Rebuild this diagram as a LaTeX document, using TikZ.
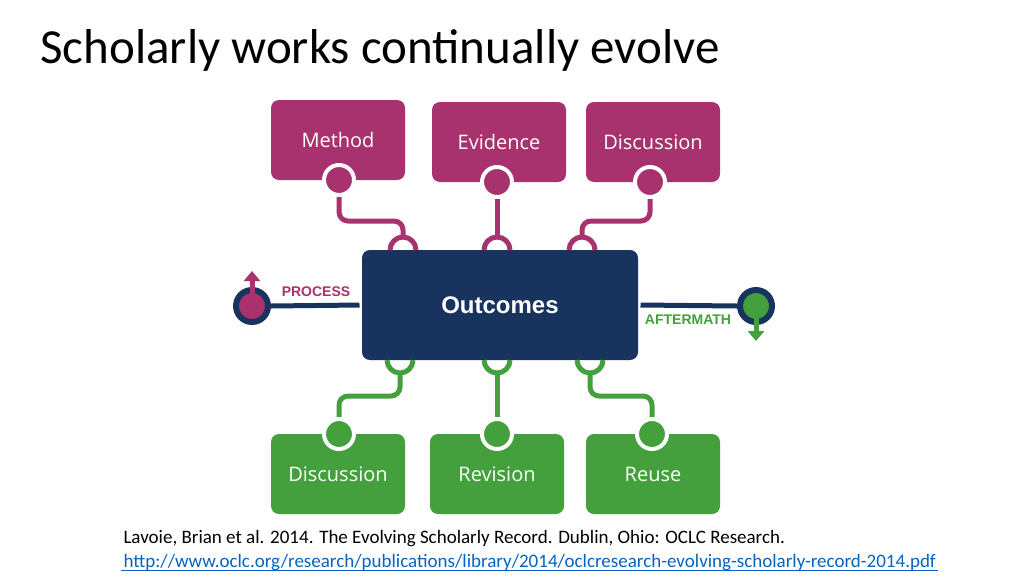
\documentclass[tikz,border=0pt]{standalone}
\usepackage{fontspec}
\setmainfont{Carlito}
\newfontfamily\boxfont{Open Sans}
\newfontfamily\headfont{Liberation Sans}
\usepackage{tikz}
\usetikzlibrary{calc,arrows.meta,positioning}
\definecolor{plum}{RGB}{168,50,110}
\definecolor{leaf}{RGB}{67,160,60}
\definecolor{navy}{RGB}{24,52,94}
\definecolor{linkblue}{RGB}{5,99,193}

\begin{document}
\begin{tikzpicture}[x=1pt,y=-1pt,line width=5pt,
  top box/.style={fill=plum,rounded corners=8pt,minimum width=134pt,minimum height=80pt,
    text=white,font=\boxfont\fontsize{20}{20}\selectfont,inner sep=0pt},
  bottom box/.style={top box,fill=leaf},
  plug/.style={circle,draw=white,line width=4pt,inner sep=0pt,minimum size=30pt},
  top link/.style={draw=plum,rounded corners=9pt},
  bottom link/.style={draw=leaf,rounded corners=9pt}]
  \useasboundingbox (0,0) rectangle (1024,576);

  \node[anchor=west,font=\fontsize{49}{49}\selectfont,inner sep=0pt] (title) at (38,50) {Scholarly works continually evolve};

  % central box
  \node[fill=navy,rounded corners=8pt,minimum width=276pt,minimum height=110pt,
    text=white,font=\headfont\bfseries\fontsize{24}{24}\selectfont] (out) at (500,305) {Outcomes};

  % inputs
  \node[top box] (method) at (338,140) {Method};
  \node[top box] (evid) at (499,142) {Evidence};
  \node[top box] (disc) at (653,142) {Discussion};
  \foreach \n/\x/\y in {m/339/180,e/497/182,d/650/182}
    \node[plug,fill=plum] (\n) at (\x,\y) {};

  % outputs
  \node[bottom box] (disc2) at (338,474) {Discussion};
  \node[bottom box] (rev) at (497,474) {Revision};
  \node[bottom box] (reuse) at (653,474) {Reuse};
  \foreach \n/\x in {d2/339,r/497,u/652}
    \node[plug,fill=leaf] (\n) at (\x,434) {};

  % sockets on the central box
  \foreach \x in {403,497,582}
    \draw[plum] (\x-13,250) arc[start angle=180,end angle=360,radius=13];
  \foreach \x in {400,497,590}
    \draw[leaf] (\x-13,360) arc[start angle=180,end angle=0,radius=13];
  \coordinate (im) at (403,237);
  \coordinate (ie) at (497,237);
  \coordinate (id) at (582,237);
  \coordinate (od) at (400,373);
  \coordinate (or) at (497,373);
  \coordinate (ou) at (590,373);

  \draw[top link] (m.south) -- (339,221) -- (403,221) -- (im);
  \draw[top link] (e.south) -- (ie);
  \draw[top link] (d.south) -- (650,221) -- (582,221) -- (id);
  \draw[bottom link] (od) -- (400,396) -- (339,396) -- (d2.north);
  \draw[bottom link] (or) -- (r.north);
  \draw[bottom link] (ou) -- (590,396) -- (652,396) -- (u.north);

  % process and aftermath
  \node[circle,fill=plum,draw=navy,line width=6pt,minimum size=32pt,inner sep=0pt] (proc) at (252,306) {};
  \node[circle,fill=leaf,draw=navy,line width=6pt,minimum size=32pt,inner sep=0pt] (after) at (756,306) {};
  \draw[navy] (proc.east) -- (out.west);
  \draw[navy] (out.east) -- (after.west);
  \draw[plum,-{Triangle[width=16pt,length=10pt]}] (proc.center) -- (252,271);
  \draw[leaf,-{Triangle[width=16pt,length=10pt]}] (after.center) -- (756,341);
  \node[text=plum,font=\headfont\bfseries\fontsize{14}{14}\selectfont] (plab) at (316,292) {PROCESS};
  \node[text=leaf,font=\headfont\bfseries\fontsize{14}{14}\selectfont] (alab) at (688,320) {AFTERMATH};

  % citation
  \node[anchor=base west,font=\fontsize{19}{19}\selectfont,inner sep=0pt] (cite) at (121,543)
    {Lavoie, Brian et al. 2014. The Evolving Scholarly Record. Dublin, Ohio: OCLC Research.};
  \node[anchor=base west,font=\fontsize{19}{19}\selectfont,inner sep=0pt,text=linkblue] (url) at (121,567)
    {http://www.oclc.org/research/publications/library/2014/oclcresearch-evolving-scholarly-record-2014.pdf};
  \draw[linkblue,line width=1pt] ($(url.base west)+(0,3)$) -- ($(url.base east)+(0,3)$);
\end{tikzpicture}
\end{document}
